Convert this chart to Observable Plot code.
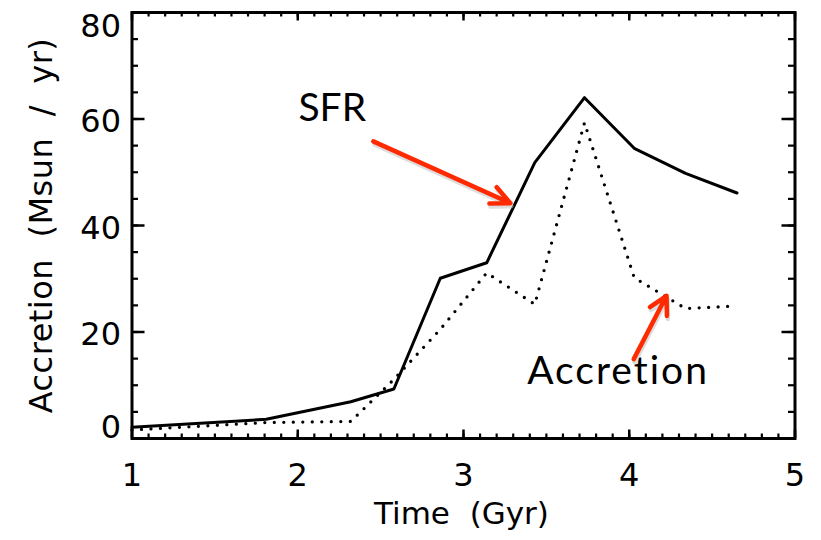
<!DOCTYPE html>
<html><head><meta charset="utf-8">
<script src="https://cdn.jsdelivr.net/npm/d3@7"></script>
<script src="https://cdn.jsdelivr.net/npm/@observablehq/plot@0.6"></script>
<style>body{margin:0;background:#fff} svg{display:block}</style>
</head><body><div id="chart"></div>
<script>
// Data
const time      = [1.0, 1.81, 2.32, 2.58, 2.86, 3.14, 3.43, 3.73, 4.03, 4.34, 4.65];
const sfr       = [2.1, 3.6, 6.9, 9.3, 30.1, 33.0, 51.8, 64.0, 54.5, 49.8, 46.1];
const accretion = [1.6, 3.0, 3.2, 11.1, 20.5, 31.1, 25.2, 59.3, 30.2, 24.4, 24.9];

const xTicks = [1, 2, 3, 4, 5];
const yTicks = [0, 20, 40, 60, 80];
const xMinor = d3.range(10, 51).map(d => d / 10);
const yMinor = d3.range(0, 17).map(d => d * 5);

// annotations (data coordinates)
const labelText = ["SFR", "Accretion"];
const labelX = [2.004, 3.384];
const labelY = [59.6, 10.2];
const sfrArrow = [{x1: 2.456, y1: 55.8, x2: 3.283, y2: 44.2}];
const accArrow = [{x1: 4.027, y1: 14.9, x2: 4.225, y2: 26.8}];

const sfrRows = time.map((t, i) => ({t, v: sfr[i]}));
const accRows = time.map((t, i) => ({t, v: accretion[i]}));
const labels = labelText.map((s, i) => ({s, x: labelX[i], y: labelY[i]}));

const W = 821, H = 540, mL = 131.5, mR = 26.5, mT = 12, mB = 102;
const iW = W - mL - mR, iH = H - mT - mB;
const red = "#ff2a00";
const axisFont = "DejaVu Sans";
const annFont = "Lato";
const fmt = d3.format("d");

const chart = Plot.plot({
  width: W, height: H,
  marginLeft: mL, marginRight: mR, marginTop: mT, marginBottom: mB,
  x: {domain: [1, 5], axis: null},
  y: {domain: [0, 80], axis: null},
  style: {background: "#fff", color: "#000"},
  marks: [
    // minor ticks (inward, all four sides)
    Plot.ruleX(xMinor, {x: d => d, insetTop: iH - 4.5, strokeWidth: 2.2}),
    Plot.ruleX(xMinor, {x: d => d, insetBottom: iH - 4.5, strokeWidth: 2.2}),
    Plot.ruleY(yMinor, {y: d => d, insetRight: iW - 6.5, strokeWidth: 2.2}),
    Plot.ruleY(yMinor, {y: d => d, insetLeft: iW - 6.5, strokeWidth: 2.2}),
    // major ticks
    Plot.ruleX(xTicks, {x: d => d, insetTop: iH - 8.5, strokeWidth: 2.5}),
    Plot.ruleX(xTicks, {x: d => d, insetBottom: iH - 8.5, strokeWidth: 2.5}),
    Plot.ruleY(yTicks, {y: d => d, insetRight: iW - 13, strokeWidth: 2.5}),
    Plot.ruleY(yTicks, {y: d => d, insetLeft: iW - 13, strokeWidth: 2.5}),
    Plot.frame({stroke: "#000", strokeWidth: 3}),
    // tick labels
    Plot.axisX(xTicks, {tickSize: 0, tickPadding: 25, tickFormat: fmt, fontSize: 32, fontFamily: axisFont, label: null}),
    Plot.axisY([20, 40, 60], {tickSize: 0, tickPadding: 11, dy: 3, tickFormat: fmt, fontSize: 32, fontFamily: axisFont, label: null}),
    Plot.axisY([80], {tickSize: 0, tickPadding: 11, dy: 14.5, tickFormat: fmt, fontSize: 32, fontFamily: axisFont, label: null}),
    Plot.axisY([0], {tickSize: 0, tickPadding: 11, dy: -10.5, tickFormat: fmt, fontSize: 32, fontFamily: axisFont, label: null}),
    // axis titles
    Plot.text(["Accretion  (Msun  /  yr)"], {text: d => d, frameAnchor: "left", dx: -90, rotate: -90,
      textAnchor: "middle", lineAnchor: "middle", fontSize: 32, fontFamily: axisFont}),
    Plot.text(["Time  (Gyr)"], {text: d => d, frameAnchor: "bottom", dx: -2, dy: 63, lineAnchor: "top",
      textAnchor: "middle", fontSize: 31, fontFamily: axisFont}),
    // series
    Plot.line(accRows, {x: "t", y: "v", stroke: "#000", strokeWidth: 3.3, strokeDasharray: "0 9.5", strokeLinecap: "round"}),
    Plot.line(sfrRows, {x: "t", y: "v", stroke: "#000", strokeWidth: 3}),
    // annotations
    Plot.text(labels, {x: "x", y: "y", text: "s", textAnchor: "start", lineAnchor: "bottom",
      fontSize: 39, fontFamily: annFont, fill: "#000"}),
    Plot.arrow(sfrArrow, {x1: "x1", y1: "y1", x2: "x2", y2: "y2", stroke: "#bbb", strokeOpacity: 0.5,
      strokeWidth: 4.5, headLength: 7, headAngle: 50, dx: 1, dy: 3}),
    Plot.arrow(accArrow, {x1: "x1", y1: "y1", x2: "x2", y2: "y2", stroke: "#bbb", strokeOpacity: 0.5,
      strokeWidth: 4.5, headLength: 6.7, headAngle: 57, dx: 1, dy: 3}),
    Plot.arrow(sfrArrow, {x1: "x1", y1: "y1", x2: "x2", y2: "y2", stroke: red,
      strokeWidth: 4.5, headLength: 7, headAngle: 50}),
    Plot.arrow(accArrow, {x1: "x1", y1: "y1", x2: "x2", y2: "y2", stroke: red,
      strokeWidth: 4.5, headLength: 6.7, headAngle: 57})
  ]
});
d3.select(chart).selectAll("text").filter(function() { return this.textContent === "Accretion"; })
  .attr("letter-spacing", 2);
d3.select(chart).selectAll("text").filter(function() { return this.textContent.startsWith("Accretion  ("); })
  .attr("letter-spacing", 0.5);
document.getElementById("chart").appendChild(chart);
</script>
</body></html>
